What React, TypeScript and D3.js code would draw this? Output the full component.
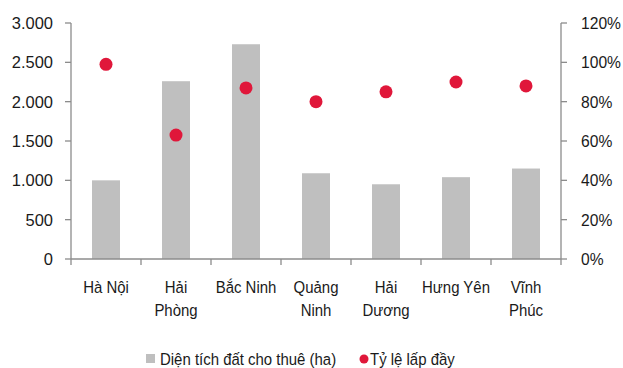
import React from "react";
import * as d3 from "d3";

const categories: string[][] = [
  ["Hà Nội"],
  ["Hải", "Phòng"],
  ["Bắc Ninh"],
  ["Quảng", "Ninh"],
  ["Hải", "Dương"],
  ["Hưng Yên"],
  ["Vĩnh", "Phúc"],
];
const leasedArea = [1000, 2260, 2730, 1090, 950, 1040, 1150];
const occupancy = [99, 63, 87, 80, 85, 90, 88];
const leftTicks = [0, 500, 1000, 1500, 2000, 2500, 3000];
const rightTicks = [0, 20, 40, 60, 80, 100, 120];
const seriesNames = ["Diện tích đất cho thuê (ha)", "Tỷ lệ lấp đầy"];

const W = 623;
const H = 368;
const M = { left: 71, right: 62, top: 23, bottom: 109 };
const FONT = "'Liberation Sans', Arial, sans-serif";
const BAR = "#BFBFBF";
const DOT = "#E0173A";
const AXIS = "#8C8C8C";
const INK = "#1a1a1a";

const fmt = (v: number) => d3.format(",")(v).replace(/,/g, ".");

// Condensed-looking label: horizontally squeezed around its anchor point
function Label(props: {
  x: number;
  y: number;
  sx: number;
  anchor?: "start" | "middle" | "end";
  children: React.ReactNode;
}) {
  const { x, y, sx, anchor = "start", children } = props;
  return (
    <text
      transform={`translate(${x},${y}) scale(${sx},1)`}
      dy="0.35em"
      textAnchor={anchor}
      fontSize={17}
      fill={INK}
    >
      {children}
    </text>
  );
}

export default function App() {
  const x0 = M.left;
  const x1 = W - M.right;
  const yB = H - M.bottom;
  const keys = categories.map((c) => c.join(" "));
  const x = d3.scaleBand<string>().domain(keys).range([x0, x1]).paddingInner(0.6).paddingOuter(0.3);
  const xBand = d3.scaleBand<string>().domain(keys).range([x0, x1]);
  const cx = (i: number) => xBand(keys[i])! + xBand.bandwidth() / 2;
  const yL = d3.scaleLinear().domain([0, 3000]).range([yB, M.top]);
  const yR = d3.scaleLinear().domain([0, 120]).range([yB, M.top]);

  return (
    <svg width={W} height={H} style={{ position: "absolute", left: 0, top: 0, background: "#fff" }} fontFamily={FONT}>
      {/* bars */}
      {leasedArea.map((v, i) => (
        <rect key={"b" + i} x={x(keys[i])} y={yL(v)} width={x.bandwidth()} height={yB - yL(v)} fill={BAR} />
      ))}
      {/* left axis */}
      <line x1={x0} x2={x0} y1={M.top} y2={yB} stroke={AXIS} strokeWidth={1.3} />
      {leftTicks.map((t) => (
        <g key={"l" + t}>
          <line x1={x0 - 6} x2={x0} y1={yL(t)} y2={yL(t)} stroke={AXIS} strokeWidth={1.3} />
          <Label x={53} y={yL(t)} sx={0.97} anchor="end">
            {fmt(t)}
          </Label>
        </g>
      ))}
      {/* right axis */}
      <line x1={x1} x2={x1} y1={M.top} y2={yB} stroke={AXIS} strokeWidth={1.3} />
      {rightTicks.map((t) => (
        <g key={"r" + t}>
          <line x1={x1} x2={x1 + 6} y1={yR(t)} y2={yR(t)} stroke={AXIS} strokeWidth={1.3} />
          <Label x={581} y={yR(t)} sx={0.92}>
            {t + "%"}
          </Label>
        </g>
      ))}
      {/* bottom axis */}
      <line x1={x0} x2={x1} y1={yB} y2={yB} stroke={AXIS} strokeWidth={1.3} />
      {keys.map((k, i) => (
        <line key={"bt" + i} x1={xBand(k)} x2={xBand(k)} y1={yB} y2={yB + 6} stroke={AXIS} strokeWidth={1.3} />
      ))}
      <line x1={x1} x2={x1} y1={yB} y2={yB + 6} stroke={AXIS} strokeWidth={1.3} />
      {categories.map((lines, i) =>
        lines.map((s, j) => (
          <Label key={"c" + i + "-" + j} x={cx(i)} y={287 + j * 23} sx={0.88} anchor="middle">
            {s}
          </Label>
        ))
      )}
      {/* occupancy dots */}
      {occupancy.map((v, i) => (
        <circle key={"d" + i} cx={cx(i)} cy={yR(v)} r={6.5} fill={DOT} />
      ))}
      {/* legend */}
      <rect x={146} y={354} width={9} height={9} fill={BAR} />
      <Label x={160} y={359} sx={0.88}>
        {seriesNames[0]}
      </Label>
      <circle cx={364} cy={359} r={4.5} fill={DOT} />
      <Label x={370} y={359} sx={0.88}>
        {seriesNames[1]}
      </Label>
    </svg>
  );
}
